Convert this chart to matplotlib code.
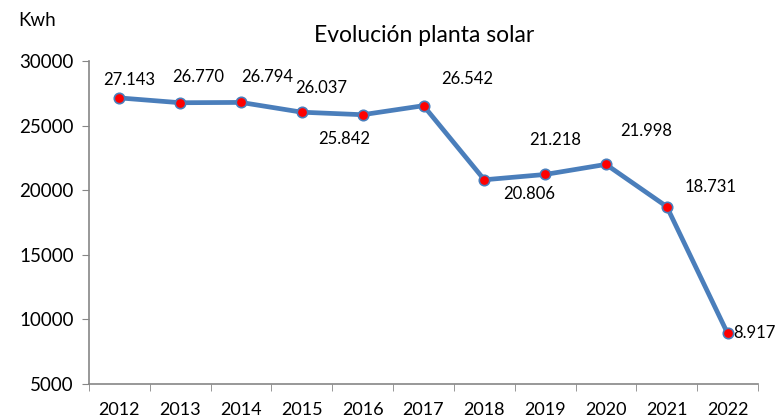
import matplotlib
matplotlib.use("Agg")
import matplotlib.pyplot as plt

years = ["2012", "2013", "2014", "2015", "2016", "2017", "2018", "2019", "2020", "2021", "2022"]
kwh = [27143, 26770, 26794, 26037, 25842, 26542, 20806, 21218, 21998, 18731, 8917]
labels = ["27.143", "26.770", "26.794", "26.037", "25.842", "26.542", "20.806", "21.218", "21.998", "18.731", "8.917"]
# label offsets in pixels (dx, dy) from each point
offsets = [(10, 18), (18, 26), (26, 25), (19, 24), (-18, -24), (44, 27), (45, -14), (10, 34), (40, 33), (44, 20), (6, 0)]

plt.rcParams["font.family"] = ["Lato", "DejaVu Sans"]

fig = plt.figure(figsize=(7.77, 4.19), dpi=100)
ax = fig.add_axes([89 / 777, (419 - 384) / 419, (758 - 89) / 777, (384 - 61) / 419])

x = list(range(len(years)))
ax.plot(x, kwh, color="#4A7EBB", lw=3.4, marker="o", ms=7.5,
        markerfacecolor="red", markeredgecolor="#4A7EBB", markeredgewidth=1.2)

for i, (xi, yi, lab, (dx, dy)) in enumerate(zip(x, kwh, labels, offsets)):
    ax.annotate(lab, (xi, yi), xytext=(dx, dy), textcoords="offset pixels",
                ha="left" if i == len(x) - 1 else "center", va="center",
                fontsize=12, color="black", annotation_clip=False)

ax.set_xlim(-0.5, len(years) - 0.5)
ax.set_ylim(5000, 30000)
ax.set_yticks(range(5000, 30001, 5000))
ax.set_xticks(x)
ax.set_xticklabels(years)
ax.set_xticks([i - 0.5 for i in range(len(years) + 1)], minor=True)
ax.tick_params(axis="x", which="major", length=0, pad=13, labelsize=13)
ax.tick_params(axis="x", which="minor", length=5, color="#868686")
ax.tick_params(axis="y", length=5, color="#868686", labelsize=13.5, pad=6)

for side in ["top", "right"]:
    ax.spines[side].set_visible(False)
for side in ["left", "bottom"]:
    ax.spines[side].set_color("#868686")
    ax.spines[side].set_linewidth(1.2)

fig.text(424 / 777, 1 - 36 / 419, "Evolución planta solar", ha="center", va="center", fontsize=16.5)
fig.text(18 / 777, 1 - 20 / 419, "Kwh", ha="left", va="center", fontsize=13.5)

fig.savefig("out.png", dpi=100)
